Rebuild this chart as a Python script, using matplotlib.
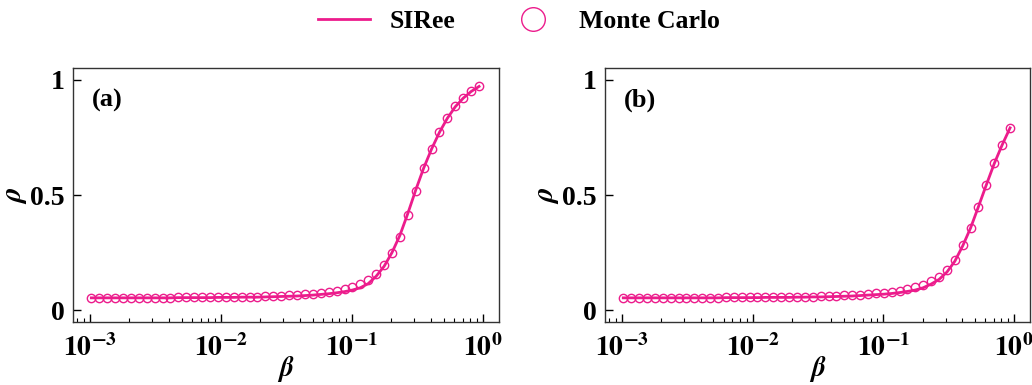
import numpy as np
import matplotlib
matplotlib.use('Agg')
import matplotlib.pyplot as plt
from matplotlib.ticker import LogLocator, NullFormatter, FixedLocator

plt.rcParams['font.family'] = 'Liberation Serif'
plt.rcParams['font.weight'] = 'bold'
plt.rcParams['mathtext.fontset'] = 'stix'

# infection rate grid (50 log-spaced samples)
beta = np.logspace(-2.99, -0.03, 50)

# panel (a): Monte Carlo markers
rho_mc_a = [0.053, 0.053, 0.053, 0.053, 0.053, 0.053, 0.054, 0.054, 0.054, 0.054,
            0.054, 0.055, 0.055, 0.055, 0.055, 0.056, 0.056, 0.056, 0.057, 0.057,
            0.058, 0.058, 0.060, 0.061, 0.062, 0.064, 0.065, 0.068, 0.071, 0.075,
            0.078, 0.084, 0.090, 0.100, 0.113, 0.130, 0.157, 0.194, 0.248, 0.319,
            0.414, 0.519, 0.616, 0.701, 0.775, 0.836, 0.886, 0.923, 0.951, 0.973]
# panel (a): SIRee curve
rho_th_a = [0.053, 0.053, 0.053, 0.053, 0.053, 0.053, 0.053, 0.053, 0.053, 0.053,
            0.053, 0.054, 0.054, 0.054, 0.054, 0.054, 0.055, 0.055, 0.055, 0.056,
            0.056, 0.056, 0.057, 0.058, 0.059, 0.060, 0.061, 0.063, 0.065, 0.068,
            0.071, 0.075, 0.080, 0.087, 0.097, 0.115, 0.147, 0.190, 0.250, 0.325,
            0.420, 0.522, 0.617, 0.700, 0.773, 0.834, 0.884, 0.921, 0.950, 0.972]

# panel (b): Monte Carlo markers
rho_mc_b = [0.053, 0.053, 0.053, 0.053, 0.053, 0.053, 0.053, 0.054, 0.054, 0.054,
            0.054, 0.054, 0.054, 0.055, 0.055, 0.055, 0.055, 0.056, 0.056, 0.056,
            0.057, 0.057, 0.057, 0.058, 0.058, 0.060, 0.061, 0.061, 0.064, 0.065,
            0.067, 0.070, 0.072, 0.075, 0.080, 0.084, 0.091, 0.099, 0.109, 0.128,
            0.145, 0.175, 0.219, 0.281, 0.355, 0.449, 0.542, 0.638, 0.719, 0.793]
# panel (b): SIRee curve
rho_th_b = [0.053, 0.053, 0.053, 0.053, 0.053, 0.053, 0.053, 0.053, 0.053, 0.053,
            0.053, 0.053, 0.053, 0.054, 0.054, 0.054, 0.054, 0.054, 0.055, 0.055,
            0.055, 0.055, 0.056, 0.056, 0.057, 0.057, 0.058, 0.059, 0.060, 0.061,
            0.063, 0.065, 0.067, 0.069, 0.072, 0.076, 0.081, 0.087, 0.097, 0.113,
            0.133, 0.165, 0.212, 0.279, 0.357, 0.450, 0.545, 0.637, 0.718, 0.792]

panels = [('(a)', rho_th_a, rho_mc_a), ('(b)', rho_th_b, rho_mc_b)]
col = '#ec1c8c'

fig = plt.figure(figsize=(10.32, 3.85), dpi=100)
ax_a = fig.add_axes([0.0707, 0.1636, 0.4128, 0.6597])
ax_b = fig.add_axes([0.5862, 0.1636, 0.4118, 0.6597])

for ax, (lab, th, mc) in zip([ax_a, ax_b], panels):
    ax.plot(beta, th, '-', color=col, lw=2.0)
    ax.plot(beta, mc, 'o', mfc='none', mec=col, ms=6, mew=1.0)
    ax.set_xscale('log')
    ax.set_xlim(10**-3.13, 10**0.122)
    ax.set_ylim(-0.052, 1.052)
    ax.set_yticks([0, 0.5, 1])
    ax.set_yticklabels(['0', '0.5', '1'])
    ax.xaxis.set_major_locator(FixedLocator([1e-3, 1e-2, 1e-1, 1e0]))
    ax.set_xticklabels([r'$\mathbf{10^{-3}}$', r'$\mathbf{10^{-2}}$',
                        r'$\mathbf{10^{-1}}$', r'$\mathbf{10^{0}}$'])
    ax.xaxis.set_minor_locator(LogLocator(base=10, subs=np.arange(2, 10)))
    ax.xaxis.set_minor_formatter(NullFormatter())
    ax.tick_params(axis='both', which='major', direction='in', labelsize=20,
                   length=6, width=1.0, top=False, right=False)
    ax.tick_params(axis='x', which='minor', direction='in', length=3, width=0.8,
                   top=False)
    ax.tick_params(axis='x', which='major', pad=9)
    ax.tick_params(axis='y', which='major', pad=6)
    for t in ax.get_yticklabels():
        t.set_fontweight('bold')
    ax.set_xlabel(r'$\beta$', fontsize=20, labelpad=-6)
    ax.set_ylabel(r'$\rho$', fontsize=21, labelpad=1)
    ax.text(0.045, 0.874, lab, transform=ax.transAxes, fontsize=19,
            fontweight='bold', va='center')
    for s in ax.spines.values():
        s.set_linewidth(1.0)
        s.set_color('#333333')

h1 = plt.Line2D([], [], color=col, lw=2.0)
h2 = plt.Line2D([], [], ls='none', marker='o', mfc='none', mec=col, ms=17, mew=1.0)
fig.legend([h1, h2], ['SIRee', 'Monte Carlo'], loc='center', ncol=2,
           bbox_to_anchor=(0.503, 0.945), frameon=False, fontsize=18.5,
           handlelength=2.0, columnspacing=2.0, handletextpad=0.8)

fig.savefig('out.png', dpi=100)
